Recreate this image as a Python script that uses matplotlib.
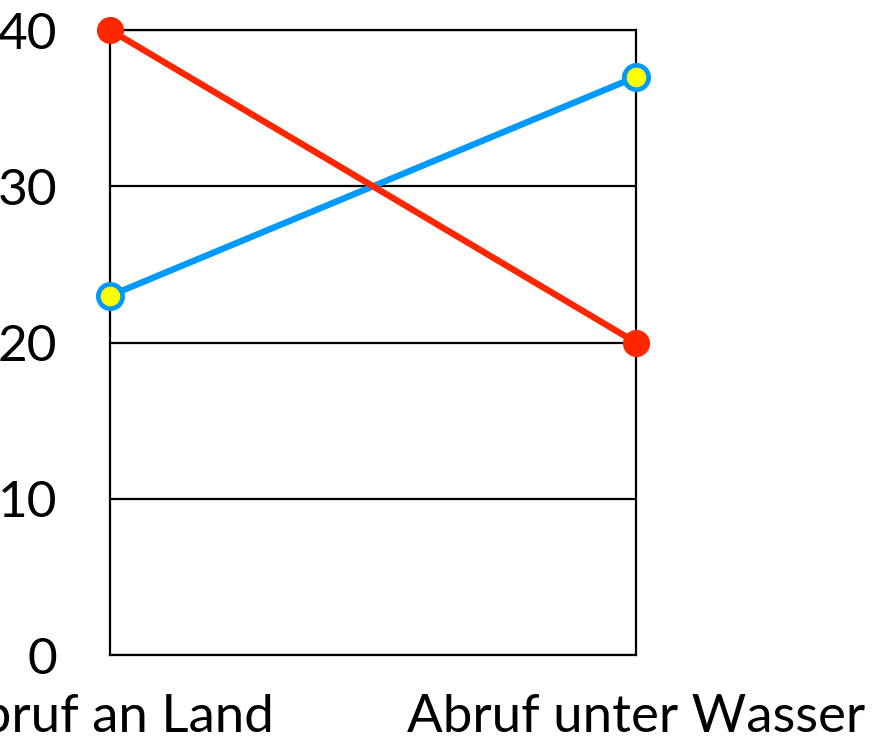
import numpy as np
import matplotlib.pyplot as plt

categories = ['Abruf an Land', 'Abruf unter Wasser']
land_series = [23, 37]
water_series = [40, 20]
yticks = [0, 10, 20, 30, 40]

plt.rcParams['font.family'] = ['Lato', 'DejaVu Sans']

fig = plt.figure(figsize=(8.74, 7.43), dpi=100)
ax = fig.add_axes([0.1259, 0.1184, 0.6018, 0.8412])

x = np.arange(len(categories))

# blue line first so the red one sits on top where they cross
ax.plot(x, land_series, color='#0099ff', lw=4.6, marker='o', ms=17.5,
        mfc='#ffff00', mec='#0099ff', mew=3.4, clip_on=False, zorder=3)
ax.plot(x, water_series, color='#ff2600', lw=4.6, marker='o', ms=18.5,
        mfc='#ff2600', mec='#ff2600', clip_on=False, zorder=4)

ax.set_xlim(0, 1)
ax.set_ylim(0, 40)
ax.set_xticks(x)
ax.set_xticklabels(categories)
ax.set_yticks(yticks)
ax.yaxis.grid(True, color='black', lw=1.6)
ax.set_axisbelow(True)
for s in ax.spines.values():
    s.set_linewidth(1.6)
ax.tick_params(axis='both', length=0)
ax.tick_params(axis='y', labelsize=37, pad=38)
ax.tick_params(axis='x', labelsize=38, pad=28)

fig.savefig('out.png', dpi=100)
